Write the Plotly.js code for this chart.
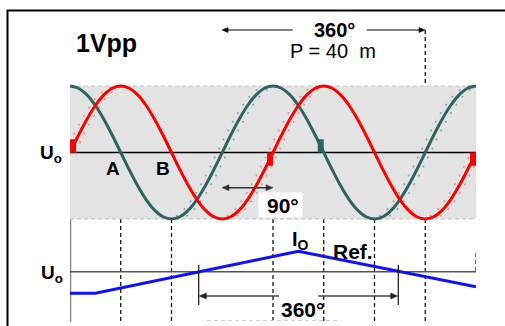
<!DOCTYPE html>
<html><head><meta charset="utf-8">
<script src="https://cdn.plot.ly/plotly-3.0.1.min.js"></script>
<style>html,body{margin:0;padding:0;background:#fff;overflow:hidden}#chart{width:505px;height:326px}</style>
</head><body><div id="chart"></div>
<script>
// ---- data ----
const phaseDeg = [0,15,30,45,60,75,90,105,120,135,150,165,180,195,210,225,240,255,270,285,300,315,330,345,
                  360,375,390,405,420,435,450,465,480,495,510,525,540,555,570,585,600,615,630,645,660,675,690,705,720];
const signalRed = [0,0.259,0.5,0.707,0.866,0.966,1,0.966,0.866,0.707,0.5,0.259,0,-0.259,-0.5,-0.707,-0.866,-0.966,-1,-0.966,-0.866,-0.707,-0.5,-0.259,
                   0,0.259,0.5,0.707,0.866,0.966,1,0.966,0.866,0.707,0.5,0.259,0,-0.259,-0.5,-0.707,-0.866,-0.966,-1,-0.966,-0.866,-0.707,-0.5,-0.259,0];
const signalGreen = [1,0.966,0.866,0.707,0.5,0.259,0,-0.259,-0.5,-0.707,-0.866,-0.966,-1,-0.966,-0.866,-0.707,-0.5,-0.259,0,0.259,0.5,0.707,0.866,0.966,
                     1,0.966,0.866,0.707,0.5,0.259,0,-0.259,-0.5,-0.707,-0.866,-0.966,-1,-0.966,-0.866,-0.707,-0.5,-0.259,0,0.259,0.5,0.707,0.866,0.966,1];
const refPhase = [0,45,405,720];
const refSignal = [-1,-1,0.95,-0.7];
const redMarkPhase = [0,360,720];
const greenMarkPhase = [450];
const guideBlack = [45,90,180,360,450,540,630,720];
const guideGray = [315,585];
const labelTitle = '1Vpp';
const labelPeriod = '360°';
const labelPitch = 'P = 40  m';
const labelQuarter = '90°';

// ---- helpers ----
const H = 326, L = 70, PW = 406;
const px2x = p => (p - L) / PW;
const px2y = p => 1 - p / H;
const FONT = 'Liberation Sans, Arial, sans-serif';
const RED = '#ff0000', GREEN = '#2f6363', BLUE = '#1010ff';

function ghost(vals, shift) {
  return phaseDeg.map((d, i) => {
    const prev = vals[i - 1], next = vals[i + 1];
    const rising = (next !== undefined && next > vals[i]) || (prev !== undefined && vals[i] > prev);
    return rising ? d + shift : null;
  });
}

const traces = [];
[[signalRed, '#f38c8c'], [signalGreen, '#7fa6a6']].forEach(([v, c]) => {
  [-9, 9].forEach(s => traces.push({
    x: ghost(v, s), y: v, type: 'scatter', mode: 'lines', xaxis: 'x', yaxis: 'y',
    line: {color: c, width: 1.6, dash: '2px,8px', shape: 'spline'}, hoverinfo: 'skip'
  }));
});
traces.push({x: phaseDeg, y: signalGreen, type: 'scatter', mode: 'lines', xaxis: 'x', yaxis: 'y',
  line: {color: GREEN, width: 3, shape: 'spline'}});
traces.push({x: phaseDeg, y: signalRed, type: 'scatter', mode: 'lines', xaxis: 'x', yaxis: 'y',
  line: {color: RED, width: 3, shape: 'spline'}});
traces.push({x: refPhase, y: refSignal, type: 'scatter', mode: 'lines', xaxis: 'x', yaxis: 'y2',
  line: {color: BLUE, width: 3}});

const shapes = [];
// gray band
shapes.push({type: 'rect', xref: 'x', yref: 'y', x0: 0, x1: 720, y0: -1, y1: 1, fillcolor: '#e3e3e3', line: {width: 0}, layer: 'below'});
shapes.push({type: 'line', xref: 'x', yref: 'y', x0: 0, x1: 720, y0: 1, y1: 1, line: {color: '#c8c8c8', width: 1, dash: '4px,3px'}, layer: 'below'});
shapes.push({type: 'line', xref: 'x', yref: 'y', x0: 0, x1: 720, y0: -1, y1: -1, line: {color: '#bdbdbd', width: 1, dash: '4px,3px'}, layer: 'below'});
// guides
const guideSpan = d => {
  if (d === 45) return [[86, 219]];
  if (d === 630) return [[30, 321]];
  if (d === 720) return [[86, 219], [253, 274]];
  return [[86, 321]];
};
guideBlack.forEach(d => guideSpan(d).forEach(([a, b]) => shapes.push({type: 'line', xref: 'x', yref: 'paper', x0: d, x1: d,
  y0: px2y(a), y1: px2y(b), line: {color: '#000', width: 1.2, dash: '4px,3px'}, layer: 'below'})));
guideGray.forEach(d => shapes.push({type: 'line', xref: 'x', yref: 'paper', x0: d, x1: d,
  y0: px2y(86), y1: px2y(219), line: {color: '#9a9a9a', width: 1.2, dash: '4px,3px'}, layer: 'below'}));
// axis lines
shapes.push({type: 'line', xref: 'x', yref: 'paper', x0: 0, x1: 0, y0: px2y(86), y1: px2y(322), line: {color: '#808080', width: 2.5}, layer: 'below'});
shapes.push({type: 'line', xref: 'x', yref: 'y', x0: 0, x1: 720, y0: 0, y1: 0, line: {color: '#000', width: 1.5}, layer: 'below'});
shapes.push({type: 'line', xref: 'x', yref: 'y2', x0: 0, x1: 720, y0: 0, y1: 0, line: {color: '#555', width: 1.5}, layer: 'below'});
// bottom faint dashes
shapes.push({type: 'line', xref: 'paper', yref: 'paper', x0: px2x(207), x1: px2x(340), y0: px2y(320.5), y1: px2y(320.5), line: {color: '#cfcfcf', width: 1, dash: '4px,3px'}});
// markers
const mw = 10.6, mh = 0.2;
redMarkPhase.forEach(d => {
  const left = d > 0;
  shapes.push({type: 'rect', xref: 'x', yref: 'y', x0: left ? d - mw : d, x1: left ? d : d + mw,
    y0: left ? -mh : 0, y1: left ? 0 : mh, fillcolor: RED, line: {width: 0}, layer: 'above'});
});
greenMarkPhase.forEach(d => shapes.push({type: 'rect', xref: 'x', yref: 'y', x0: d - mw, x1: d, y0: 0, y1: mh,
  fillcolor: GREEN, line: {width: 0}, layer: 'above'}));
// 90° white box
shapes.push({type: 'rect', xref: 'paper', yref: 'paper', x0: px2x(258.5), x1: px2x(302.5), y0: px2y(217.5), y1: px2y(192.5),
  fillcolor: '#fff', line: {width: 0}, layer: 'above'});
// lower 360 ticks
[198.7, 398.3].forEach(p => shapes.push({type: 'line', xref: 'paper', yref: 'paper', x0: px2x(p), x1: px2x(p),
  y0: px2y(265), y1: px2y(305), line: {color: '#111', width: 1.2}}));
// dimension arrows: line + triangular heads
const seg = (x0, x1, y, color, width) => shapes.push({type: 'line', xref: 'paper', yref: 'paper',
  x0: px2x(x0), x1: px2x(x1), y0: px2y(y), y1: px2y(y), line: {color: color, width: width}, layer: 'above'});
const head = (hx, hy, dir, color, len, half) => {
  const bx = hx - dir * len;
  const pth = 'M ' + px2x(hx) + ' ' + px2y(hy) + ' L ' + px2x(bx) + ' ' + px2y(hy - half) +
              ' L ' + px2x(bx) + ' ' + px2y(hy + half) + ' Z';
  shapes.push({type: 'path', xref: 'paper', yref: 'paper', path: pth, fillcolor: color, line: {color: color, width: 0.5}, layer: 'above'});
};
seg(224, 292.7, 30, '#000', 1); head(222, 30, -1, '#000', 6, 2.5);
seg(366.7, 423, 30, '#000', 1); head(425, 30, 1, '#000', 6, 2.5);
seg(226, 269, 187.7, '#333', 1.5); head(222, 187.7, -1, '#333', 7, 3); head(273, 187.7, 1, '#333', 7, 3);
seg(203, 279, 296, '#444', 1.5); head(199.3, 296, -1, '#222', 7, 3);
seg(318.3, 393, 296, '#444', 1.5); head(397.7, 296, 1, '#222', 7, 3);
// frame
shapes.push({type: 'rect', xref: 'paper', yref: 'paper', x0: px2x(7.5), x1: px2x(560), y0: px2y(400), y1: px2y(10.5),
  line: {color: '#000', width: 2}, fillcolor: 'rgba(0,0,0,0)'});

const ann = [];
const txt = (text, cx, cy, size, bold) => ann.push({
  text: bold ? '<b>' + text + '</b>' : text, xref: 'paper', yref: 'paper', x: px2x(cx), y: px2y(cy),
  xanchor: 'center', yanchor: 'middle', showarrow: false, font: {family: FONT, size: size, color: '#000'}
});

txt(labelTitle, 106, 43, 25, true);
txt(labelPeriod, 334, 30, 20, true);
txt(labelPitch, 333, 51, 20, false);
txt('U<sub>o</sub>', 51, 154, 19, true);
txt('U<sub>o</sub>', 52, 274, 19, true);
txt('A', 113, 168, 19, true);
txt('B', 163, 168, 19, true);
txt(labelQuarter, 283, 205, 21, true);
txt('I<sub>O</sub>', 300, 240, 20, true);
txt('Ref.', 353, 251, 21, true);
txt(labelPeriod, 302, 309, 21, true);

const ax0 = {visible: false, showgrid: false, zeroline: false, fixedrange: true};
const layout = {
  width: 505, height: 326, margin: {l: 70, r: 29, t: 0, b: 0},
  paper_bgcolor: '#fff', plot_bgcolor: 'rgba(0,0,0,0)', showlegend: false,
  xaxis: Object.assign({}, ax0, {range: [0, 720], domain: [0, 1]}),
  yaxis: Object.assign({}, ax0, {range: [-1.1, 1.1], domain: [0.3078, 0.7566]}),
  yaxis2: Object.assign({}, ax0, {range: [-2.5, 2.5], domain: [0.0017, 0.3314]}),
  shapes: shapes, annotations: ann
};
Plotly.newPlot('chart', traces, layout, {staticPlot: true, displayModeBar: false});
</script></body></html>
